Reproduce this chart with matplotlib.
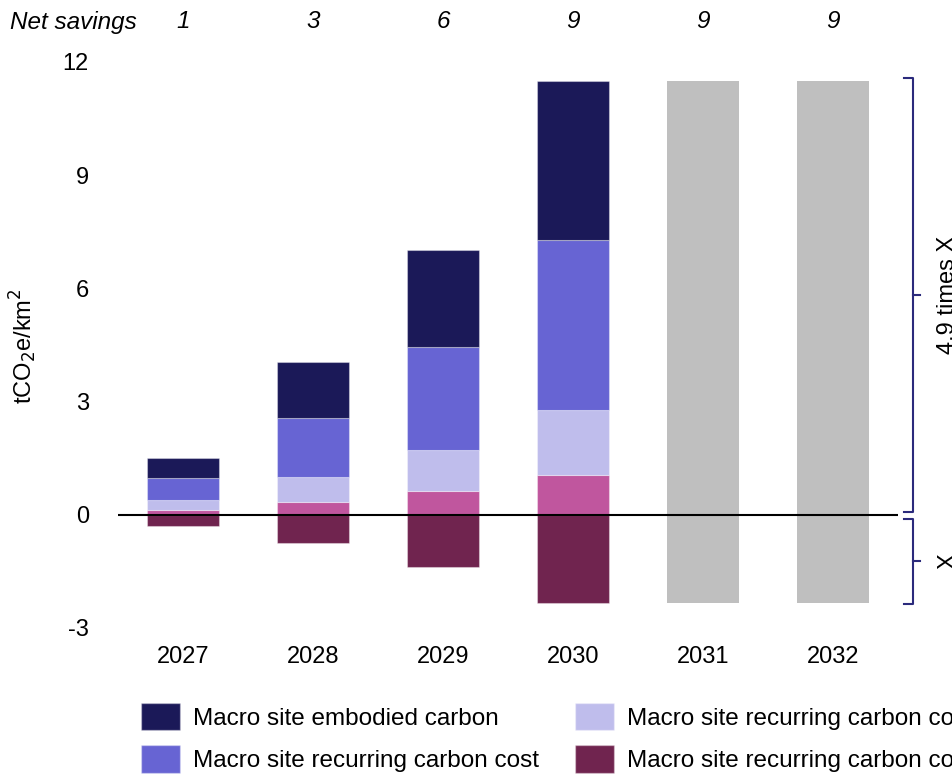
import numpy as np
import matplotlib
matplotlib.use("Agg")
import matplotlib.pyplot as plt
from matplotlib.patches import Patch
from matplotlib.transforms import blended_transform_factory

plt.rcParams['font.family'] = ['Liberation Sans', 'DejaVu Sans']

# ---- data -----------------------------------------------------------------
years = ["2027", "2028", "2029", "2030", "2031", "2032"]
net_savings = ["1", "3", "6", "9", "9", "9"]

# stacked positive segments (bottom to top), tCO2e/km2
recurring_saving_pink = [0.13, 0.34, 0.64, 1.06, np.nan, np.nan]
recurring_light = [0.27, 0.67, 1.09, 1.73, np.nan, np.nan]
recurring_cost = [0.58, 1.56, 2.73, 4.48, np.nan, np.nan]
embodied = [0.53, 1.49, 2.57, 4.22, np.nan, np.nan]
# negative segment
recurring_negative = [-0.29, -0.74, -1.38, -2.34, np.nan, np.nan]
# projected range for later years
projected_top = [np.nan, np.nan, np.nan, np.nan, 11.49, 11.49]
projected_bottom = [np.nan, np.nan, np.nan, np.nan, -2.34, -2.34]

legend_labels = [
    "Macro site embodied carbon",
    "Macro site recurring carbon cost",
    "Macro site recurring carbon cost savings",
    "Macro site recurring carbon cost reduction",
    "Macro site recurring carbon savings",
]

c_navy = "#1b1958"
c_blue = "#6764d3"
c_lav = "#bfbdec"
c_pink = "#c0569e"
c_maroon = "#70244f"
c_gray = "#bfbfbf"
c_brace = "#2b2a7c"

FS = 17

# ---- figure ---------------------------------------------------------------
fig = plt.figure(figsize=(9.53, 7.78), dpi=100)
ax = fig.add_axes([118 / 953, 1 - 628 / 778, (898 - 118) / 953, (628 - 62) / 778])

x = np.arange(len(years))
w = 0.555
edge = dict(edgecolor=(1, 1, 1, 0.35), linewidth=0.8)

b0 = np.zeros(len(years))
for vals, col in [(recurring_saving_pink, c_pink), (recurring_light, c_lav),
                  (recurring_cost, c_blue), (embodied, c_navy)]:
    v = np.array(vals)
    ax.bar(x, v, w, bottom=b0, color=col, **edge, zorder=2)
    b0 = b0 + np.nan_to_num(v)

ax.bar(x, recurring_negative, w, color=c_maroon, **edge, zorder=2)

pt = np.array(projected_top)
pb = np.array(projected_bottom)
ax.bar(x, pt - pb, w, bottom=pb, color=c_gray, zorder=2)

ax.axhline(0, color="black", lw=1.5, zorder=3)

ax.set_xlim(-0.5, 5.5)
ax.set_ylim(-3, 12)
ax.set_yticks([-3, 0, 3, 6, 9, 12])
ax.set_yticklabels(["-3", "0", "3", "6", "9", "12"], fontsize=FS)
ax.set_xticks(x)
ax.set_xticklabels(years, fontsize=FS)
ax.tick_params(axis="y", length=0, pad=21)
ax.tick_params(axis="x", length=0, pad=13)
for s in ax.spines.values():
    s.set_visible(False)

fig.text(23 / 953, 1 - 346 / 778, "tCO$_2$e/km$^2$", fontsize=FS, rotation=90,
         ha="center", va="center")

# net savings row
trans = blended_transform_factory(ax.transData, fig.transFigure)
fig.text(10 / 953, 1 - 22 / 778, "Net savings", fontsize=17.5, style="italic",
         ha="left", va="center")
for xi, s in zip(x, net_savings):
    ax.text(xi, 1 - 22 / 778, s, transform=trans, fontsize=17.5, style="italic",
            ha="center", va="center")

# braces on the right
pos_total = np.nansum([recurring_saving_pink[3], recurring_light[3],
                       recurring_cost[3], embodied[3]])
neg_total = recurring_negative[3]


def brace(y_top, y_bot):
    xv, xh, xn = 5.615, 5.55, 5.67
    ym = (y_top + y_bot) / 2
    ax.plot([xh, xv, xv, xh], [y_top, y_top, y_bot, y_bot], color=c_brace,
            lw=1.5, clip_on=False, solid_joinstyle="round", zorder=4)
    ax.plot([xv, xn], [ym, ym], color=c_brace, lw=1.5, clip_on=False, zorder=4)
    return ym


m1 = brace(pos_total + 0.08, 0.08)
m2 = brace(-0.1, neg_total - 0.02)
ax.text(5.885, m1, "4.9 times X", rotation=90, fontsize=FS, ha="center",
        va="center", clip_on=False)
ax.text(5.885, m2, "X", rotation=90, fontsize=FS, ha="center", va="center",
        clip_on=False)

# legend
handles = [Patch(facecolor=c, edgecolor=(1, 1, 1, 0.35))
           for c in [c_navy, c_blue, c_lav, c_maroon, c_pink]]
fig.legend(handles, legend_labels, ncol=3, loc="upper left",
           bbox_to_anchor=(141 / 953, 1 - 703 / 778), frameon=False,
           fontsize=17.5, borderpad=0, borderaxespad=0,
           handlelength=1.6, handleheight=1.35, handletextpad=0.55,
           columnspacing=1.46, labelspacing=0.62)

fig.savefig("out.png", dpi=100)
